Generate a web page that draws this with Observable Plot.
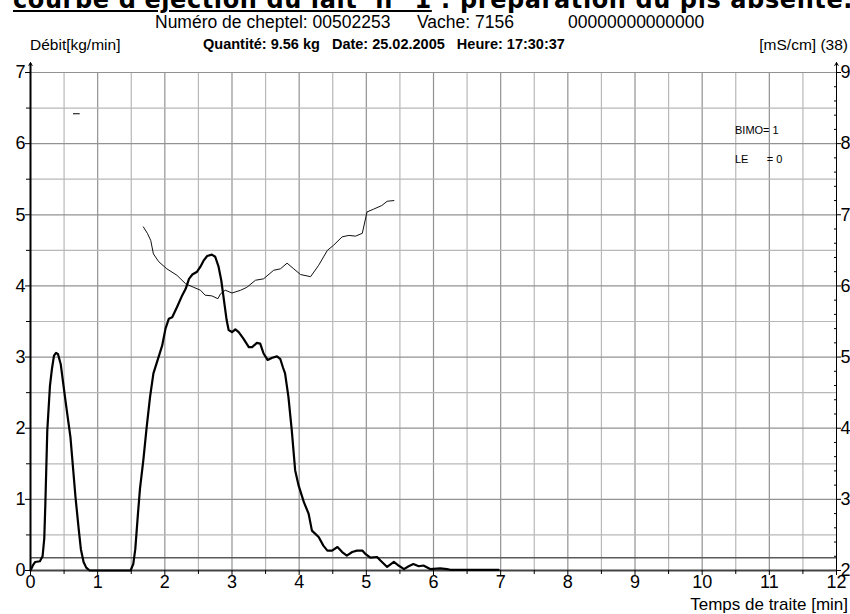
<!DOCTYPE html>
<html><head><meta charset="utf-8">
<script src="https://cdn.jsdelivr.net/npm/d3@7"></script>
<script src="https://cdn.jsdelivr.net/npm/@observablehq/plot@0.6"></script>
<style>
body{margin:0;background:#fff;}
#wrap{position:relative;width:850px;height:614px;overflow:hidden;font-family:"Liberation Sans",Arial,sans-serif;color:#000;background:#fff;}
#wrap svg{position:absolute;left:0;top:0;}
.t{position:absolute;white-space:pre;line-height:1;}
</style></head><body><div id="wrap"></div>
<script>
// Milk flow (kg/min) vs time (min)
const flowTime = [0,0.04,0.07,0.14,0.18,0.205,0.22,0.25,0.29,0.32,0.35,0.38,0.41,0.45,0.52,0.595,0.67,0.72,0.75,0.79,0.83,0.88,1.49,1.53,1.56,1.60,1.63,1.68,1.73,1.78,1.83,1.89,1.96,2.01,2.06,2.11,2.18,2.26,2.31,2.36,2.41,2.48,2.53,2.58,2.63,2.70,2.75,2.80,2.84,2.88,2.92,2.95,3.00,3.05,3.10,3.17,3.25,3.30,3.37,3.42,3.47,3.53,3.60,3.67,3.72,3.76,3.79,3.84,3.89,3.94,3.99,4.07,4.14,4.19,4.29,4.36,4.42,4.49,4.57,4.64,4.71,4.79,4.86,4.94,4.99,5.06,5.16,5.21,5.31,5.41,5.48,5.56,5.63,5.70,5.78,5.85,5.95,6.10,6.20,6.25,6.50,6.75,6.97];
const flowValue = [0,0.08,0.12,0.13,0.20,0.45,0.90,1.97,2.60,2.84,3.02,3.06,3.04,2.90,2.39,1.87,1.03,0.56,0.30,0.12,0.04,0,0,0.09,0.30,0.80,1.15,1.55,2.02,2.44,2.77,2.95,3.16,3.40,3.54,3.56,3.70,3.87,3.96,4.10,4.16,4.20,4.27,4.36,4.42,4.44,4.41,4.27,4.08,3.80,3.52,3.38,3.35,3.39,3.35,3.26,3.14,3.14,3.20,3.19,3.05,2.96,2.99,3.01,2.97,2.85,2.77,2.44,1.97,1.41,1.20,0.96,0.80,0.56,0.47,0.35,0.28,0.28,0.33,0.26,0.21,0.26,0.28,0.28,0.23,0.18,0.19,0.14,0.05,0.12,0.07,0.02,0.06,0.09,0.06,0.07,0.02,0.03,0.02,0.01,0.01,0.01,0.01];
// Conductivity (mS/cm, right axis) vs time (min)
const condTime = [1.68,1.74,1.79,1.83,1.91,2.03,2.18,2.31,2.43,2.53,2.60,2.70,2.79,2.83,2.90,3.00,3.13,3.22,3.35,3.47,3.62,3.72,3.82,3.92,4.02,4.17,4.29,4.42,4.51,4.64,4.74,4.84,4.94,5.01,5.11,5.23,5.31,5.41];
const condValue = [6.83,6.74,6.64,6.45,6.34,6.24,6.15,6.03,5.98,5.94,5.87,5.86,5.82,5.89,5.94,5.90,5.94,5.98,6.08,6.10,6.22,6.24,6.32,6.24,6.16,6.13,6.29,6.50,6.57,6.69,6.71,6.70,6.74,7.04,7.08,7.13,7.19,7.20];
// Axes
const xTicks = [0,1,2,3,4,5,6,7,8,9,10,11,12];
const yTicks = [0,1,2,3,4,5,6,7];
const rightTicks = [2,3,4,5,6,7,8,9];
const rightOffset = 2;           // right axis = left axis + 2
const endThreshold = [0.18];     // end-of-milking threshold line (kg/min)
const dashMark = [{x1:0.64, x2:0.74, y:6.42}];

const flow = flowTime.map((t,i)=>({t, v: flowValue[i]}));
const cond = condTime.map((t,i)=>({t, v: condValue[i] - rightOffset}));
const halfX = d3.range(0.5, 12, 1);
const intX = xTicks.slice(1, -1);
const halfY = d3.range(0.5, 7, 1);
const intY = yTicks.slice(1);
const minorRight = d3.range(1, 35).map(i => i * 0.2).filter(v => Math.abs(v - Math.round(v)) > 1e-6);

const font = '"Liberation Sans", Arial, sans-serif';
const chart = Plot.plot({
  width: 850, height: 614,
  marginLeft: 30, marginRight: 14, marginTop: 72, marginBottom: 44,
  x: {domain: [0, 12]},
  y: {domain: [0, 7]},
  style: {fontFamily: font, fontSize: "18px", background: "transparent", color: "#000"},
  marks: [
    Plot.ruleX(halfX, {stroke: "#b8b8b8", strokeWidth: 1.2}),
    Plot.ruleX(intX, {stroke: "#929292", strokeWidth: 1.2}),
    Plot.ruleY(halfY, {stroke: "#b8b8b8", strokeWidth: 1.2}),
    Plot.ruleY(intY, {stroke: "#929292", strokeWidth: 1.2}),
    Plot.ruleY(endThreshold, {stroke: "#5a5a5a", strokeWidth: 1.6}),
    Plot.ruleY([0], {stroke: "#444", strokeWidth: 2}),
    Plot.ruleX([0], {y1: 0, y2: 7.12, stroke: "#000", strokeWidth: 2}),
    Plot.ruleX([12], {y1: 0, y2: 7.12, stroke: "#000", strokeWidth: 1}),
    Plot.arrow([0, 12], {x1: d => d, x2: d => d, y1: 7.0, y2: 7.14, headLength: 5, strokeWidth: 1}),
    Plot.ruleY(dashMark, {x1: "x1", x2: "x2", y: "y", stroke: "#000", strokeWidth: 1}),
    Plot.line(cond, {x: "t", y: "v", stroke: "#111", strokeWidth: 1}),
    Plot.line(flow, {x: "t", y: "v", stroke: "#000", strokeWidth: 2.2, strokeLinejoin: "round"}),
    Plot.axisX(xTicks, {anchor: "bottom", tickSize: 5, tickPadding: 0, label: null, fontSize: 18, tickFormat: d => String(d)}),
    Plot.axisX(halfX, {anchor: "bottom", tickSize: 4, tickFormat: () => "", label: null}),
    Plot.axisY(yTicks, {anchor: "left", tickSize: 5, tickPadding: 0, label: null, fontSize: 18, tickFormat: d => String(d)}),
    Plot.axisY(halfY, {anchor: "left", tickSize: 4, tickFormat: () => "", label: null}),
    Plot.axisY(yTicks, {anchor: "right", tickSize: 4, tickPadding: 0, label: null, fontSize: 18, tickFormat: d => String(d + rightOffset)}),
    Plot.axisY(minorRight, {anchor: "right", tickSize: 3, dx: -3, tickFormat: () => "", label: null})
  ]
});

const wrap = document.getElementById("wrap");
wrap.appendChild(chart);

function addText(txt, css, underline) {
  const d = document.createElement("div");
  d.className = "t";
  Object.assign(d.style, css);
  if (underline) {
    const u = document.createElement("span");
    u.style.textDecoration = "underline";
    u.textContent = underline;
    d.appendChild(u);
    d.appendChild(document.createTextNode(txt));
  } else d.textContent = txt;
  wrap.appendChild(d);
  return d;
}
addText(" : préparation du pis absente.", {left: "13px", top: "-10px", lineHeight: "20px", fontSize: "24px", fontWeight: "bold", fontFamily: '"DejaVu Sans", sans-serif', letterSpacing: "0.6px"}, "courbe d'éjection du lait  n° 1");
addText("Numéro de cheptel: 00502253", {left: "155px", top: "14px", fontSize: "17.5px"});
addText("Vache: 7156", {left: "417px", top: "14px", fontSize: "17.5px"});
addText("00000000000000", {left: "568px", top: "14px", fontSize: "17.5px"});
addText("Débit[kg/min]", {left: "30px", top: "37px", fontSize: "15.5px"});
addText("Quantité: 9.56 kg   Date: 25.02.2005   Heure: 17:30:37", {left: "203px", top: "37px", fontSize: "14.5px", fontWeight: "bold"});
addText("[mS/cm] (38)", {right: "2px", top: "37px", fontSize: "15.5px"});
addText("BIMO= 1", {left: "735px", top: "125px", fontSize: "11px"});
addText("LE      = 0", {left: "735px", top: "154px", fontSize: "11px"});
addText("Temps de traite [min]", {right: "2px", top: "596px", fontSize: "17px"});
</script></body></html>
